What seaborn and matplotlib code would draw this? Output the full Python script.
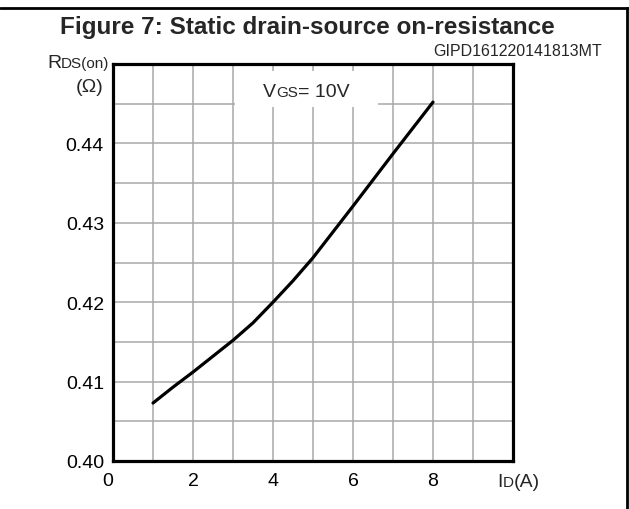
import matplotlib
matplotlib.use("Agg")
import matplotlib.pyplot as plt
import seaborn as sns
import pandas as pd
import numpy as np
from matplotlib.patches import Rectangle

# ---- data ----
id_a = [1, 1.5, 2, 2.5, 3, 3.5, 4, 4.5, 5, 6, 7, 8]
rds_on = [0.4073, 0.4093, 0.4112, 0.4132, 0.4152, 0.4174, 0.4200, 0.4227,
          0.4256, 0.4321, 0.4387, 0.4452]
x_ticks = [0, 2, 4, 6, 8, 10]
x_tick_labels = ["0", "2", "4", "6", "8", ""]
y_ticks = [0.40, 0.41, 0.42, 0.43, 0.44, 0.45]
y_tick_labels = ["0.40", "0.41", "0.42", "0.43", "0.44", ""]

sns.set_style("white")
plt.rcParams["font.family"] = ["Liberation Sans", "DejaVu Sans"]

W, H = 629, 510
fig = plt.figure(figsize=(W / 100, H / 100), dpi=100)
ax = fig.add_axes([113 / W, 1 - 462 / H, 400 / W, 397 / H])

df = pd.DataFrame({"ID": id_a, "RDS": rds_on})
sns.lineplot(data=df, x="ID", y="RDS", ax=ax, color="black", lw=2.3,
             solid_joinstyle="round", solid_capstyle="round", zorder=5)

ax.set_xlim(0, 10)
ax.set_ylim(0.40, 0.45)
ax.set_xticks(x_ticks)
ax.set_xticklabels(x_tick_labels)
ax.set_xticks(np.arange(0, 11, 1), minor=True)
ax.set_yticks(y_ticks)
ax.set_yticklabels(y_tick_labels)
ax.set_yticks(np.arange(0.40, 0.4501, 0.005), minor=True)
ax.grid(which="both", color="#a8a8a8", lw=1.1, zorder=0)
ax.set_axisbelow(True)
ax.tick_params(which="both", length=0, labelsize=14, colors="black")
ax.tick_params(axis="x", pad=8)
ax.tick_params(axis="y", pad=6.5)
ax.xaxis.get_majorticklabels()[0].set_ha("right")
ax.set_xlabel("")
ax.set_ylabel("")
for s in ax.spines.values():
    s.set_visible(True)
    s.set_color("black")
    s.set_linewidth(2.3)

# VGS annotation box
ax.add_patch(Rectangle((3.05, 0.44458), 3.57, 0.0045, facecolor="white",
                       edgecolor="none", zorder=3))


def small_caps(parts, x, y):
    """parts: list of (text, size) drawn on a common baseline in figure px."""
    t = fig.text(x / W, 1 - y / H, parts[0][0], fontsize=parts[0][1],
                 ha="left", va="baseline", zorder=6)
    prev = t
    prev_size = parts[0][1]
    for txt, size in parts[1:]:
        d = 0.212 * prev_size  # descent of previous text bbox (points)
        prev = ax.annotate(txt, xy=(1, 0), xycoords=prev, xytext=(0, d),
                           textcoords="offset points", fontsize=size,
                           ha="left", va="baseline", annotation_clip=False,
                           zorder=6)
        prev_size = size
    return t


small_caps([("R", 14), ("DS(on)", 11)], 47, 68)
fig.text(103 / W, 1 - 87 / H, "(Ω)", fontsize=14, ha="right", va="center")
small_caps([("I", 14), ("D", 11), ("(A)", 14)], 497, 487)
small_caps([("V", 14), ("GS", 11), ("= 10V", 14)], 263, 97)

# title, id, frame
fig.text(307 / W, 1 - 34 / H, "Figure 7: Static drain-source on-resistance",
         fontsize=17.5, fontweight="bold", ha="center", va="baseline")
fig.text(602 / W, 1 - 52 / H, "GIPD161220141813MT", fontsize=11.5,
         ha="right", va="center")
fig.add_artist(plt.Line2D([0, 1], [1 - 9 / H, 1 - 9 / H],
                          transform=fig.transFigure, color="black", lw=2))
fig.add_artist(plt.Line2D([1 - 2 / W, 1 - 2 / W], [0, 1 - 9 / H],
                          transform=fig.transFigure, color="black", lw=2))

fig.savefig("out.png", dpi=100)
